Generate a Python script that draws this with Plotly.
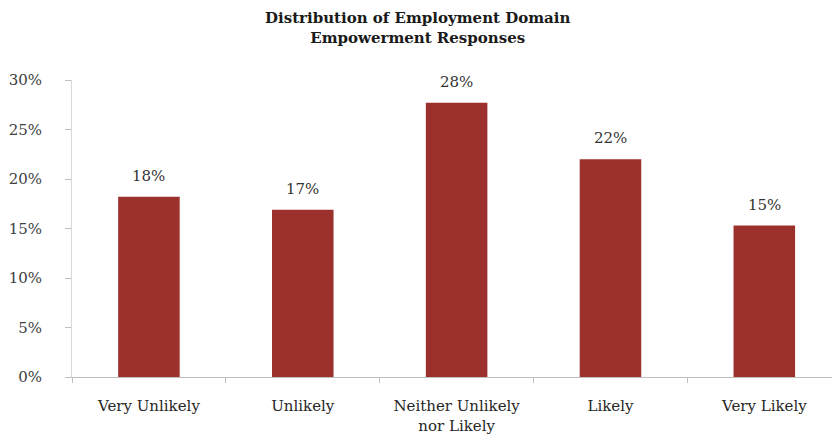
import plotly.graph_objects as go

categories = ["Very Unlikely", "Unlikely", "Neither Unlikely<br>nor Likely", "Likely", "Very Likely"]
shares = [0.182, 0.169, 0.277, 0.220, 0.153]
y_ticks = [0, 0.05, 0.10, 0.15, 0.20, 0.25, 0.30]

SERIF = "DejaVu Serif, Liberation Serif, serif"
BAR = "#9B302D"

fig = go.Figure(
    go.Bar(
        x=categories,
        y=shares,
        marker=dict(color=BAR, line=dict(width=0)),
        width=0.4,
        hoverinfo="x+y",
    )
)

# value labels above each bar
for cat, val in zip(categories, shares):
    fig.add_annotation(
        x=cat,
        y=val,
        text=f"{val:.0%}",
        showarrow=False,
        yanchor="middle",
        yshift=21,
        font=dict(family=SERIF, size=15, color="#333333"),
    )

# two-line chart title above the plot area
fig.add_annotation(
    text="<b>Distribution of Employment Domain<br>Empowerment Responses</b>",
    xref="paper",
    yref="paper",
    x=0.455,
    y=1,
    xanchor="center",
    yanchor="middle",
    yshift=52,
    showarrow=False,
    font=dict(family=SERIF, size=15, color="#1a1a1a"),
)

fig.update_layout(
    width=832,
    height=445,
    margin=dict(l=72, r=0, t=80, b=68),
    paper_bgcolor="white",
    plot_bgcolor="white",
    showlegend=False,
)

fig.update_xaxes(
    range=[-0.5, 4.44],
    showline=True,
    linecolor="#BFBFBF",
    linewidth=1,
    ticks="outside",
    tickson="boundaries",
    ticklen=5,
    tickcolor="#BFBFBF",
    showgrid=False,
    ticklabelstandoff=15,
    tickfont=dict(family=SERIF, size=15, color="#262626"),
)

fig.update_yaxes(
    range=[0, 0.30],
    tickvals=y_ticks,
    tickformat=".0%",
    showline=True,
    linecolor="#D9D9D9",
    linewidth=1,
    ticks="outside",
    ticklen=6,
    tickcolor="#BFBFBF",
    showgrid=False,
    zeroline=False,
    ticklabelstandoff=20,
    tickfont=dict(family=SERIF, size=15, color="#404040"),
)

fig.write_html("out.html")
